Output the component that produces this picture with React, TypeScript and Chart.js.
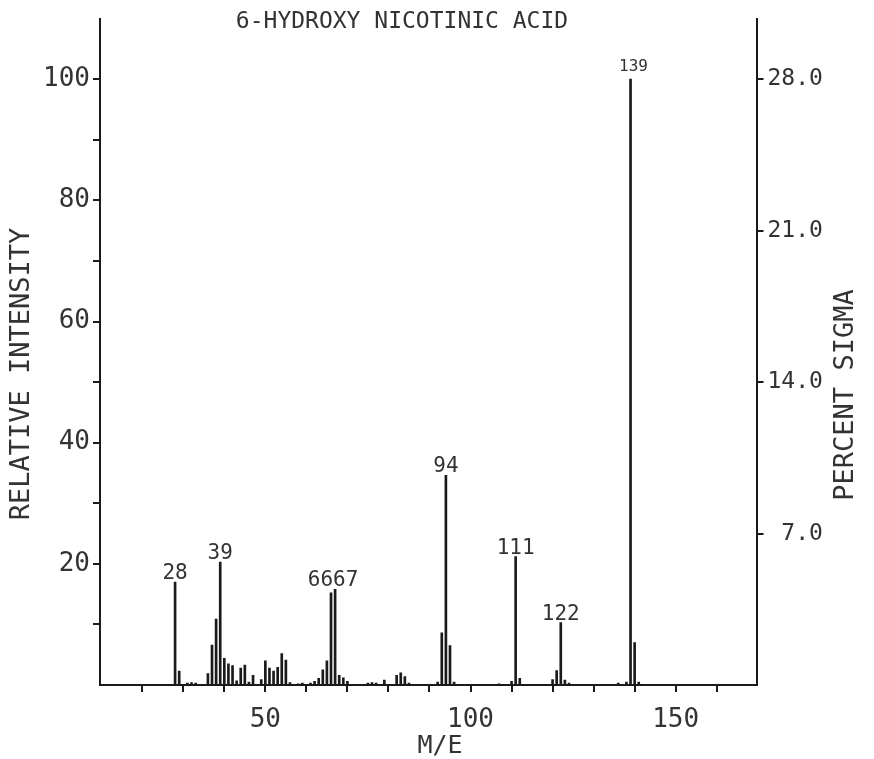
import { useEffect, useRef } from 'react';
import { Chart, registerables } from 'chart.js';

Chart.register(...registerables);

// Mass spectrum of 6-hydroxynicotinic acid: m/z and relative intensity (%)
const massToCharge = [
  28, 29, 31, 32, 33, 36, 37, 38, 39, 40, 41, 42, 43, 44, 45, 46, 47, 49, 50, 51,
  52, 53, 54, 55, 56, 58, 59, 61, 62, 63, 64, 65, 66, 67, 68, 69, 70, 75, 76, 77,
  79, 82, 83, 84, 85, 92, 93, 94, 95, 96, 107, 110, 111, 112, 120, 121, 122, 123,
  124, 136, 138, 139, 140, 141,
];
const relativeIntensity = [
  17.0, 2.3, 0.3, 0.4, 0.3, 1.9, 6.6, 10.9, 20.3, 4.4, 3.5, 3.2, 0.7, 2.8, 3.3, 0.5, 1.6, 0.9, 4.0, 2.8,
  2.3, 2.9, 5.2, 4.1, 0.4, 0.2, 0.3, 0.3, 0.6, 1.1, 2.5, 4.0, 15.2, 15.8, 1.6, 1.2, 0.6, 0.3, 0.4, 0.3,
  0.8, 1.6, 2.0, 1.4, 0.3, 0.5, 8.6, 34.6, 6.5, 0.5, 0.2, 0.6, 21.2, 1.1, 0.9, 2.4, 10.3, 0.8,
  0.3, 0.3, 0.5, 100, 7.0, 0.5,
];
// Peaks annotated with their m/z
const labeledPeaks = [28, 39, 66, 67, 94, 111, 122, 139];

// Tick marks every 10 on x and on the intensity axis, labels on the round values
const massTickMarks = [20, 30, 40, 50, 60, 70, 80, 90, 100, 110, 120, 130, 140, 150, 160];
const massTicks = [50, 100, 150];
const intensityTickMarks = [10, 20, 30, 40, 50, 60, 70, 80, 90, 100];
const intensityTicks = [20, 40, 60, 80, 100];
const sigmaTicks = [7, 14, 21, 28];
const sigmaAtBasePeak = 28; // percent sigma of the 100% peak

const TITLE = '6-HYDROXY NICOTINIC ACID';
const X_TITLE = 'M/E';
const Y_TITLE = 'RELATIVE INTENSITY';
const Y2_TITLE = 'PERCENT SIGMA';

const FONT = '"DejaVu Sans Mono", "Liberation Mono", monospace';
const INK = '#1a1a1a';
const TEXT = '#333';

const annotationPlugin = {
  id: 'spectrumText',
  afterDraw(chart: any) {
    const ctx = chart.ctx as CanvasRenderingContext2D;
    const xs = chart.scales.x;
    const ys = chart.scales.y;
    ctx.save();
    ctx.fillStyle = TEXT;

    // Title
    ctx.font = `23px ${FONT}`;
    ctx.textAlign = 'center';
    ctx.textBaseline = 'middle';
    ctx.fillText(TITLE, 402, 22);

    // Axis titles
    ctx.font = `25px ${FONT}`;
    ctx.fillText(X_TITLE, 440, 746);

    ctx.font = `27px ${FONT}`;
    ctx.save();
    ctx.translate(22, 374);
    ctx.rotate(-Math.PI / 2);
    ctx.fillText(Y_TITLE, 0, 0);
    ctx.restore();

    ctx.save();
    ctx.translate(846, 395);
    ctx.rotate(-Math.PI / 2);
    ctx.fillText(Y2_TITLE, 0, 0);
    ctx.restore();

    // Peak labels; neighbouring labelled peaks share one joined label
    const groups: number[][] = [];
    labeledPeaks.forEach((m) => {
      const last = groups[groups.length - 1];
      if (last && m - last[last.length - 1] <= 2) last.push(m);
      else groups.push([m]);
    });
    ctx.textBaseline = 'alphabetic';
    groups.forEach((g) => {
      const text = g.join('');
      const px = g.reduce((s, m) => s + xs.getPixelForValue(m), 0) / g.length;
      const top = Math.max(...g.map((m) => relativeIntensity[massToCharge.indexOf(m)]));
      const isBase = top >= 100;
      const py = ys.getPixelForValue(top) - (isBase ? 8 : 3);
      ctx.font = isBase ? `16px ${FONT}` : `21px ${FONT}`;
      ctx.fillText(text, px + (isBase ? 3 : 0), py);
    });
    ctx.restore();
  },
};

export default function App() {
  const canvasRef = useRef<HTMLCanvasElement | null>(null);

  useEffect(() => {
    const canvas = canvasRef.current;
    if (!canvas) return;
    const tickGrid = {
      offset: false,
      drawOnChartArea: false,
      drawTicks: true,
      tickLength: 7,
      lineWidth: 2,
      color: INK,
    };
    const setTicks = (values: number[]) => (s: any) => {
      s.ticks = values.map((value) => ({ value }));
    };
    const chart = new Chart(canvas, {
      type: 'bar',
      data: {
        datasets: [
          {
            data: massToCharge.map((m, i) => ({ x: m, y: relativeIntensity[i] })),
            backgroundColor: INK,
            borderWidth: 0,
            barThickness: 2,
            yAxisID: 'y',
            xAxisID: 'x',
          },
        ],
      },
      options: {
        animation: false,
        responsive: false,
        maintainAspectRatio: false,
        events: [],
        layout: { padding: { top: 11, left: 0, right: 0, bottom: 0 } },
        plugins: {
          legend: { display: false },
          tooltip: { enabled: false },
          title: { display: false },
        },
        scales: {
          x: {
            type: 'linear',
            min: 9.7,
            max: 169.7,
            offset: false,
            grid: tickGrid,
            border: { display: true, color: INK, width: 2 },
            afterBuildTicks: setTicks(massTickMarks),
            ticks: {
              autoSkip: false,
              maxRotation: 0,
              padding: 13,
              color: TEXT,
              font: { family: FONT, size: 26 },
              callback: (v: any) => (massTicks.includes(v) ? String(v) : ''),
            },
            afterFit: (s: any) => {
              s.height = 74;
            },
          },
          y: {
            type: 'linear',
            position: 'left',
            min: 0,
            max: 110,
            grid: tickGrid,
            border: { display: true, color: INK, width: 2 },
            afterBuildTicks: setTicks(intensityTickMarks),
            ticks: {
              autoSkip: false,
              padding: 3,
              color: TEXT,
              font: { family: FONT, size: 26 },
              callback: (v: any) => (intensityTicks.includes(v) ? String(v) : ''),
            },
            afterFit: (s: any) => {
              s.width = 100;
            },
          },
          y2: {
            type: 'linear',
            position: 'right',
            min: 0,
            max: (110 * sigmaAtBasePeak) / 100,
            grid: tickGrid,
            border: { display: true, color: INK, width: 2 },
            afterBuildTicks: setTicks(sigmaTicks),
            ticks: {
              autoSkip: false,
              padding: 4,
              color: TEXT,
              font: { family: FONT, size: 23 },
              callback: (v: any) => v.toFixed(1).padStart(4, ' '),
            },
            afterFit: (s: any) => {
              s.width = 117.5;
            },
          },
        },
      } as any,
      plugins: [annotationPlugin],
    });
    return () => chart.destroy();
  }, []);

  return (
    <div style={{ position: 'fixed', left: 0, top: 0, width: 874, height: 759, background: '#fff' }}>
      <canvas ref={canvasRef} width={874} height={759} style={{ display: 'block' }} />
    </div>
  );
}
